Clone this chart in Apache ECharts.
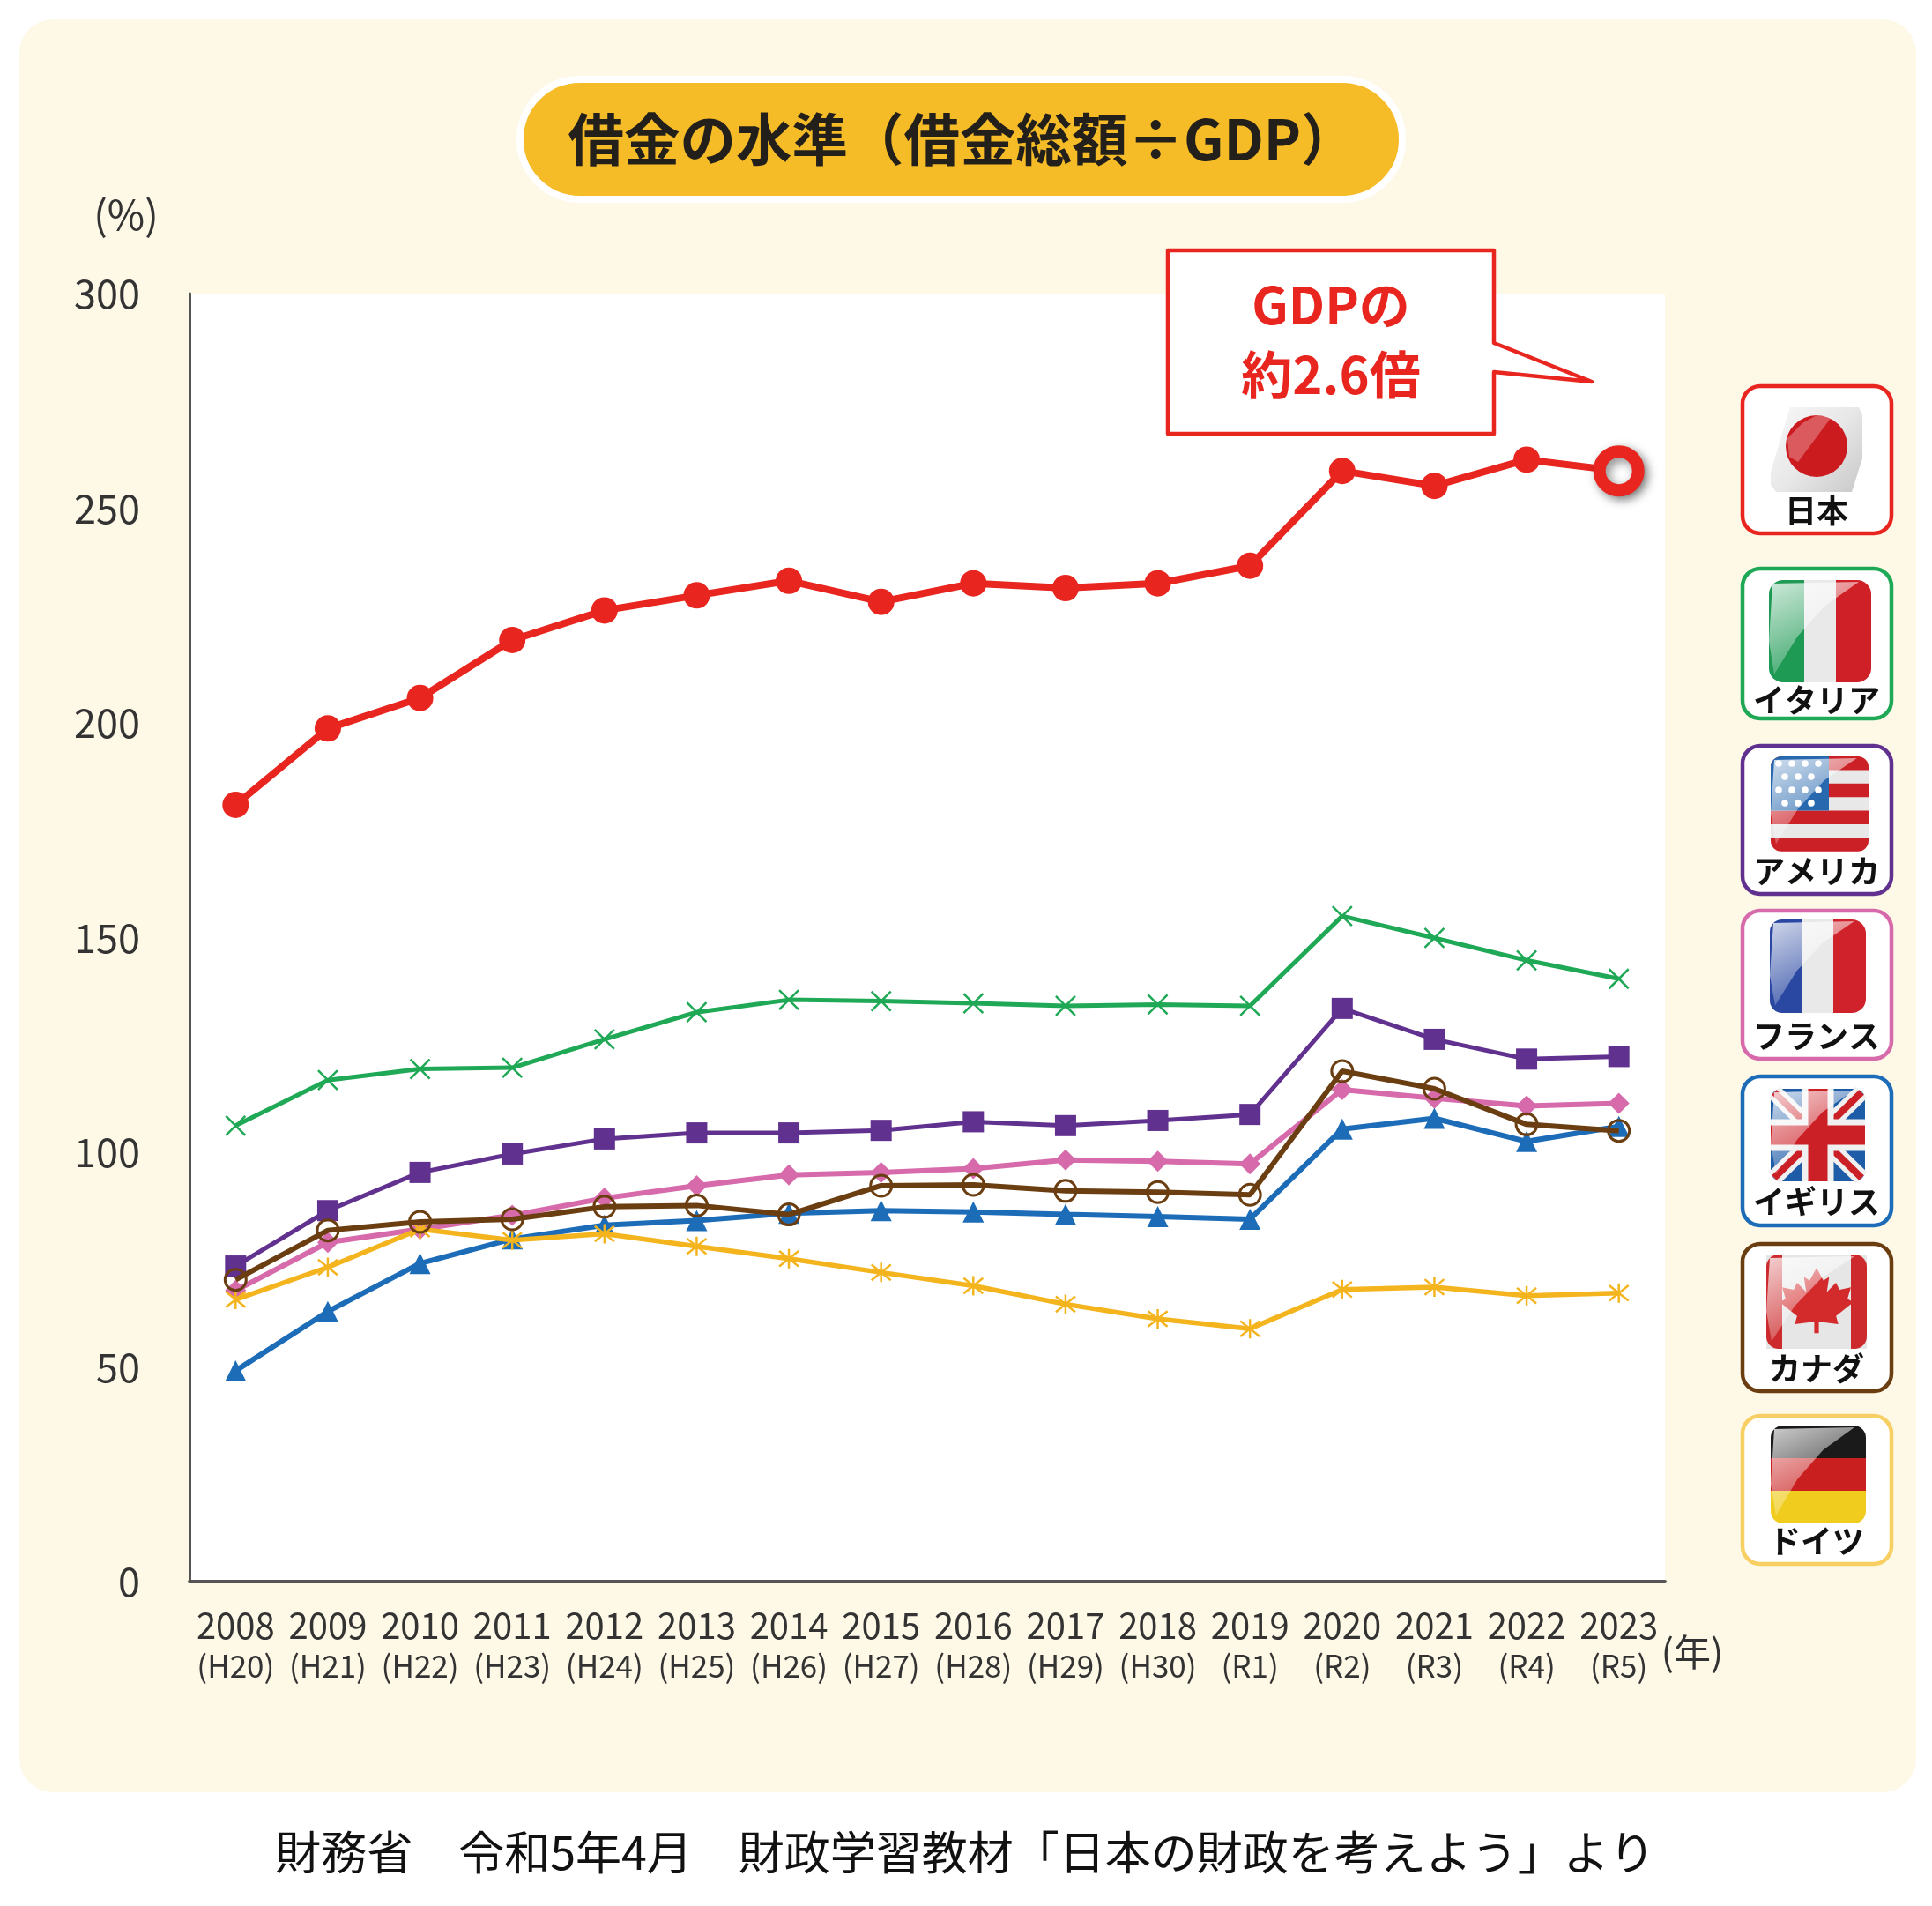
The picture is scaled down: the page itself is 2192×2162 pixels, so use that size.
<!DOCTYPE html>
<html><head><meta charset="utf-8">
<style>html,body{margin:0;padding:0;background:#fff}#c{width:2192px;height:2162px}</style>
<script src="https://cdn.jsdelivr.net/npm/echarts@6/dist/echarts.min.js"></script>
</head><body><div id="c"></div>
<script>
const years=['2008','2009','2010','2011','2012','2013','2014','2015','2016','2017','2018','2019','2020','2021','2022','2023'];
const eras=['(H20)','(H21)','(H22)','(H23)','(H24)','(H25)','(H26)','(H27)','(H28)','(H29)','(H30)','(R1)','(R2)','(R3)','(R4)','(R5)'];
const japan=[180.9,198.7,205.8,219.3,226.2,229.7,233.1,228.2,232.5,231.4,232.5,236.6,258.7,255.2,261.3,258.7];
const italy=[106.2,116.8,119.4,119.7,126.3,132.6,135.5,135.2,134.7,134.1,134.4,134.1,155,149.9,144.7,140.4];
const usa=[73.5,86.4,95.3,99.6,103.1,104.5,104.5,105.1,107.1,106.2,107.4,108.8,133.5,126.3,121.7,122.3];
const france=[67.8,79,82.1,85.3,89.3,92.2,94.7,95.3,96.2,98.2,97.9,97.3,114.6,112.6,110.8,111.4];
const uk=[49.1,62.9,74.1,79.8,83,84.1,85.8,86.4,86.1,85.5,85,84.4,105.4,107.9,102.5,106];
const canada=[70.3,81.8,83.8,84.4,87.3,87.6,85.5,92.2,92.4,91,90.7,90.1,118.9,114.8,106.5,105];
const germany=[65.7,73.2,82.1,79.5,81,78.1,75.2,72,68.9,64.6,61.2,58.9,68,68.6,66.6,67.2];

const FONT='"Noto Sans CJK JP","Noto Sans",sans-serif';
const RED='#e8261f',GREEN='#1fa855',PURPLE='#61318f',PINK='#d66aab',BLUE='#1c6cb8',BROWN='#6b3e12',YELLOW='#f4b41e';
const chart=echarts.init(document.getElementById('c'),null,{renderer:'canvas'});

function line(name,data,color,symbol,size,width,item,z){
  return {name,type:'line',data,z,animation:false,symbol,symbolSize:size,showSymbol:true,
    lineStyle:{color,width},itemStyle:Object.assign({color},item||{}),clip:false};
}
const japanData=japan.map((v,i)=>i===japan.length-1?{value:v,symbolSize:44,itemStyle:{color:'#fff',borderColor:RED,borderWidth:14,shadowBlur:12,shadowColor:'rgba(0,0,0,.45)',shadowOffsetX:4,shadowOffsetY:4}}:v);
const CROSS='path://M1 1L9 9M1 9L9 1',AST='path://M1 1L9 9M1 9L9 1M5 0L5 10';

const g=[];
function txt(text,x,y,size,fill,weight,z,extra){
  g.push(Object.assign({type:'text',z:z||50,silent:true,style:{text,x,y,fill,font:`${weight||400} ${size}px ${FONT}`,align:'center',verticalAlign:'middle'}},extra||{}));
}
function rect(x,y,w,h,fill,r,z,stroke,lw){
  g.push({type:'rect',z:z||50,silent:true,shape:{x,y,width:w,height:h,r:r||0},style:{fill,stroke:stroke||null,lineWidth:lw||0}});
}
function poly(points,fill,z,stroke,lw,join){
  g.push({type:'polygon',z:z||50,silent:true,shape:{points},style:{fill,stroke:stroke||null,lineWidth:lw||0,lineJoin:join||'miter'}});
}
function seg(x1,y1,x2,y2,stroke,lw,z){
  g.push({type:'line',z:z||50,silent:true,shape:{x1,y1,x2,y2},style:{stroke,lineWidth:lw}});
}
// panel
rect(22,22,2152,2011,'#fef8e6',38,-10);
// title pill
rect(590,90,1001,136,'#f5bc28',68,50,'#ffffff',8);
txt('借金の水準（借金総額÷GDP）',1092,158,63.5,'#231f1a',700,51);
txt('(%)',143,244,46,'#333',400);
txt('(年)',1920,1874,42,'#333',400);
txt('財務省　令和5年4月　財政学習教材「日本の財政を考えよう」より',1095,2101,52,'#111',400);
// callout
poly([[1325,284],[1695,284],[1695,389],[1806,433],[1695,422],[1695,492],[1325,492]],'#fff',60,RED,4.5,'round');
txt('GDPの',1510,346,58,RED,700,61);
txt('約2.6倍',1510,425,58,RED,700,61);

// flag cards
function gloss(x,y,w,h,z){
  poly([[x+4,y+4],[x+w*0.88,y+2],[x+w*0.55,y+h*0.25],[x+w*0.28,y+h*0.55],[x+6,y+h*0.92],[x,y+h*0.6]],
    {type:'linear',x:0,y:0,x2:0.5,y2:1,colorStops:[{offset:0,color:'rgba(255,255,255,.78)'},{offset:1,color:'rgba(255,255,255,.12)'}]},z);
}
function card(y,h,color,label,dy){
  rect(1977,y,169,h,'#fff',20,40,color,4.5);
  txt(label,2061,y+h*0.845+(dy||0),36,'#111',700,45);
}
const fx=2009,fw=111;
// Japan
card(438,167,RED,'日本');
poly([[fx+22,462],[fx+100,462],[fx+104,470],[fx+104,520],[fx+92,558],[fx+6,558],[fx,550],[fx,535]],{type:'linear',x:0,y:0,x2:1,y2:1,colorStops:[{offset:0,color:'#f8f8f8'},{offset:.5,color:'#e8e8e8'},{offset:1,color:'#c8c8c8'}]},42);
g.push({type:'circle',z:43,silent:true,shape:{cx:2061,cy:506,r:35},style:{fill:'#cc1b1f'}});
poly([[2028,497],[2045,480],[2061,471],[2078,473],[2040,524],[2030,518]],'rgba(255,255,255,.28)',44);
// Italy
card(645,170,GREEN,'イタリア',6);
rect(fx-2,658,40,116,'#1f9a55',[16,0,0,16],42);
rect(fx+38,658,36,116,'#e9e9e9',0,42);
rect(fx+74,658,40,116,'#cf2027',[0,16,16,0],42);
gloss(fx-2,658,116,116,43);
// USA
card(846,168,PURPLE,'アメリカ');
{const t=858,sh=15.4;
 rect(fx,t,fw,sh*7,'#e8e8e8',14,42);
 [0,2,4,6].forEach(i=>rect(fx,t+i*sh,fw,sh,'#cc2027',(i===0?[12,12,0,0]:i===6?[0,0,12,12]:0),42));
 rect(fx,t,66,sh*4,'#2868ae',[12,0,0,0],43);
 for(let r=0;r<4;r++)for(let c=0;c<4-(r%2);c++)
   g.push({type:'circle',z:44,silent:true,shape:{cx:fx+9+c*15+(r%2?7:0),cy:t+8+r*15,r:3.8},style:{fill:'#fff'}});
 gloss(fx,t,fw,sh*7,45);}
// France
card(1033,168,PINK,'フランス');
rect(fx-1,1043,36,106,'#2a48a2',[14,0,0,14],42);
rect(fx+35,1043,36,106,'#e9e9e9',0,42);
rect(fx+71,1043,37,106,'#d0222a',[0,16,16,0],42);
gloss(fx-1,1043,109,106,43);
// UK
card(1221,169,BLUE,'イギリス');
{const x=fx,y=1235,w=107,h=105;
 rect(x,y,w,h,'#1f5ca8',12,42);
 seg(x+4,y+4,x+w-4,y+h-4,'#f0f0f0',18,43);seg(x+w-4,y+4,x+4,y+h-4,'#f0f0f0',18,43);
 seg(x+4,y+4,x+w-4,y+h-4,'#cc2027',8,43);seg(x+w-4,y+4,x+4,y+h-4,'#cc2027',8,43);
 rect(x+w/2-18,y,36,h,'#f0f0f0',0,43);rect(x,y+h/2-18,w,36,'#f0f0f0',0,43);
 rect(x+w/2-11,y,22,h,'#cc2027',0,44);rect(x,y+h/2-11,w,22,'#cc2027',0,44);
 gloss(x,y,w,h,45);}
// Canada
card(1411,167,BROWN,'カナダ');
{const x=2004,y=1423,w=114,h=107,cx=x+w/2,k=1.3;
 rect(x,y,w,h,'#e6e6e6',0,42);
 rect(x,y,18,h,'#cc2a2c',[14,0,0,14],43);rect(x+w-18,y,18,h,'#cc2a2c',[0,14,14,0],43);
 const leaf=[[0,-26],[6,-15],[11,-18],[9,-5],[17,-13],[20,-7],[30,-9],[27,1],[32,4],[17,16],[19,23],[2,21],[2,31],[-2,31],[-2,21],[-19,23],[-17,16],[-32,4],[-27,1],[-30,-9],[-20,-7],[-17,-13],[-9,-5],[-11,-18],[-6,-15]];
 poly(leaf.map(p=>[cx+p[0]*k,y+49+p[1]*k]),'#d32a2c',44);
 gloss(x,y,w,h,45);}
// Germany
card(1606,168,'#f8cf62','ドイツ');
rect(fx,1617,108,37,'#1a1a1a',[14,14,0,0],42);
rect(fx,1654,108,37,'#c9201f',0,42);
rect(fx,1691,108,37,'#f0cc1e',[0,0,14,14],42);
gloss(fx,1617,108,111,43);

chart.setOption({
  animation:false,backgroundColor:'#fff',
  grid:{left:215,top:333,width:1674,height:1461,show:true,backgroundColor:'#fff',borderWidth:0,containLabel:false},
  xAxis:{type:'category',data:years.map((y,i)=>`{y|${y}}\n{e|${eras[i]}}`),boundaryGap:true,
    axisLine:{lineStyle:{color:'#555',width:4}},axisTick:{show:false},
    axisLabel:{interval:0,margin:27,fontFamily:FONT,rich:{y:{fontSize:40,lineHeight:46,color:'#333',fontFamily:FONT},e:{fontSize:35,lineHeight:46,color:'#333',fontFamily:FONT}}}},
  yAxis:{type:'value',min:0,max:300,interval:50,splitLine:{show:false},axisTick:{show:false},
    axisLine:{show:true,lineStyle:{color:'#555',width:3}},
    axisLabel:{margin:56,fontSize:45,color:'#333',fontFamily:FONT}},
  graphic:{elements:g},
  series:[
    line('日本',japanData,RED,'circle',30,8,null,10),
    line('イタリア',italy,GREEN,CROSS,22,5,{color:'none',borderColor:GREEN,borderWidth:2.5},4),
    line('アメリカ',usa,PURPLE,'rect',24,5,null,4),
    line('フランス',france,PINK,'diamond',24,6,null,5),
    line('イギリス',uk,BLUE,'triangle',24,6,null,6),
    line('ドイツ',germany,YELLOW,AST,22,5.5,{color:'none',borderColor:YELLOW,borderWidth:2.5},7),
    line('カナダ',canada,BROWN,'circle',24,6,{color:'rgba(255,255,255,0)',borderColor:BROWN,borderWidth:3},8)
  ]
});
</script></body></html>
